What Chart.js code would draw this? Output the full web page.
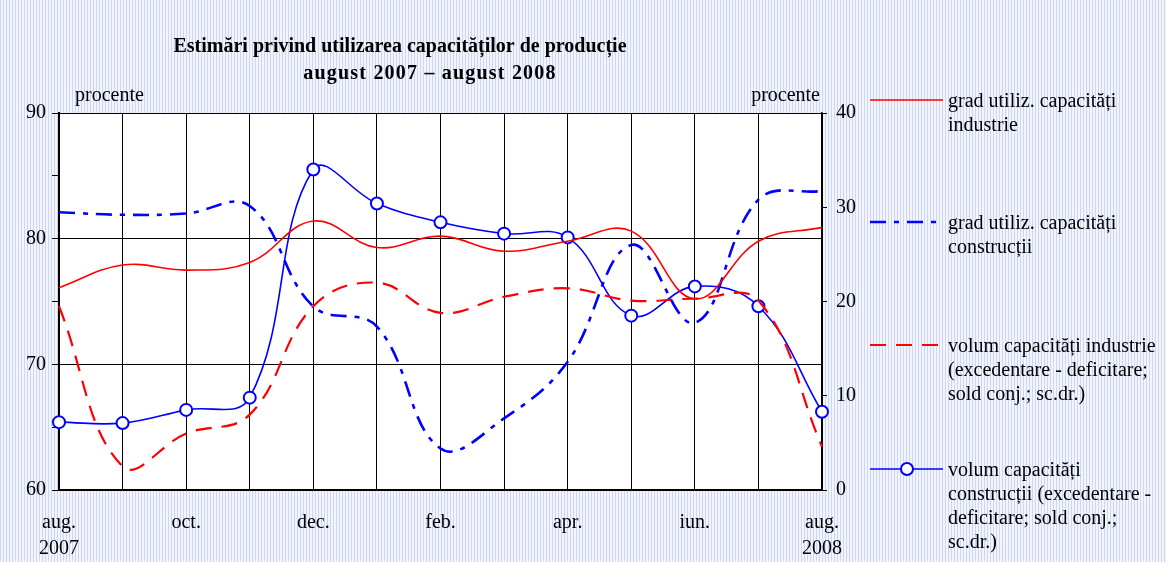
<!DOCTYPE html>
<html>
<head>
<meta charset="utf-8">
<script src="https://cdn.jsdelivr.net/npm/chart.js@4.4.1/dist/chart.umd.min.js"></script>
<style>
    body {
        margin: 0;
        background-color: #e7eaf9;
        background-image: repeating-linear-gradient(90deg, #cfd6f3 0 1px, #f3f5fd 1px 3px);
    }
    #wrap { position: relative; width: 1166px; height: 562px; }
</style>
</head>
<body>
<div id="wrap"><canvas id="chart"></canvas></div>
<script>
// months aug 2007 - aug 2008
const months = ['aug. 2007', 'sep.', 'oct.', 'nov.', 'dec.', 'ian.', 'feb.', 'mar.', 'apr.', 'mai', 'iun.', 'iul.', 'aug. 2008'];
const xTickLabels = [['aug.', '2007'], '', 'oct.', '', 'dec.', '', 'feb.', '', 'apr.', '', 'iun.', '', ['aug.', '2008']];

// left axis (procente)
const gradIndustrie = [76.1, 77.9, 77.5, 78.1, 81.4, 79.3, 80.2, 79.0, 79.8, 80.6, 75.2, 79.8, 80.9];
const gradConstructii = [82.1, 81.9, 82.0, 82.6, 74.6, 73.0, 63.3, 65.7, 70.2, 79.5, 73.3, 83.1, 83.8];
// right axis (sold conjunctural)
const volumIndustrie = [19.5, 2.5, 6.0, 8.0, 19.5, 22.0, 18.8, 20.5, 21.4, 20.1, 20.3, 20.1, 4.6];
const volumConstructii = [7.2, 7.1, 8.5, 9.8, 34.0, 30.4, 28.4, 27.2, 26.8, 18.5, 21.6, 19.5, 8.3];

const leftTicks = [60, 70, 80, 90];
const rightTicks = [0, 10, 20, 30, 40];

const serif = '"Liberation Serif", "Times New Roman", serif';

const legendItems = [
    { ds: 0, y: 100, lines: ['grad utiliz. capacități', 'industrie'] },
    { ds: 1, y: 222, lines: ['grad utiliz. capacități', 'construcții'] },
    { ds: 2, y: 345, lines: ['volum capacități industrie', '(excedentare - deficitare;', 'sold conj.; sc.dr.)'] },
    { ds: 3, y: 469, lines: ['volum capacități', 'construcții (excedentare -', 'deficitare; sold conj.;', 'sc.dr.)'] }
];

const overlay = {
    id: 'overlay',
    beforeDraw(chart) {
        const { ctx, chartArea: a } = chart;
        ctx.save();
        ctx.fillStyle = '#ffffff';
        ctx.fillRect(a.left, a.top, a.right - a.left, a.bottom - a.top);
        ctx.restore();
    },
    afterDraw(chart) {
        const ctx = chart.ctx;
        ctx.save();
        ctx.fillStyle = '#000';
        ctx.textBaseline = 'middle';

        // title
        ctx.font = 'bold 20px ' + serif;
        ctx.textAlign = 'center';
        ctx.fillText('Estimări privind utilizarea capacităților de producție', 400, 47);
        ctx.letterSpacing = '1.2px';
        ctx.fillText('august 2007 – august 2008', 430, 74);
        ctx.letterSpacing = '0px';

        // units
        ctx.font = '20px ' + serif;
        ctx.textAlign = 'left';
        ctx.fillText('procente', 75, 96);
        ctx.textAlign = 'right';
        ctx.fillText('procente', 820, 96);

        // legend
        ctx.textAlign = 'left';
        legendItems.forEach(item => {
            const ds = chart.data.datasets[item.ds];
            ctx.save();
            ctx.strokeStyle = ds.borderColor;
            ctx.lineWidth = ds.borderWidth;
            ctx.setLineDash(ds.borderDash || []);
            ctx.beginPath();
            ctx.moveTo(870, item.y);
            ctx.lineTo(943, item.y);
            ctx.stroke();
            ctx.setLineDash([]);
            if (ds.pointRadius) {
                ctx.fillStyle = '#fff';
                ctx.lineWidth = ds.pointBorderWidth;
                ctx.beginPath();
                ctx.arc(907, item.y, ds.pointRadius, 0, Math.PI * 2);
                ctx.fill();
                ctx.stroke();
            }
            ctx.restore();
            item.lines.forEach((t, i) => ctx.fillText(t, 948, item.y + 2 + i * 24));
        });
        ctx.restore();
    }
};

const ctx = document.getElementById('chart').getContext('2d');
new Chart(ctx, {
    type: 'line',
    data: {
        labels: months,
        datasets: [
            {
                label: 'grad utiliz. capacități industrie',
                data: gradIndustrie,
                yAxisID: 'y',
                borderColor: '#ff0000',
                borderWidth: 1.6,
                pointRadius: 0,
                tension: 0.4
            },
            {
                label: 'grad utiliz. capacități construcții',
                data: gradConstructii,
                yAxisID: 'y',
                borderColor: '#0000ff',
                borderWidth: 2.6,
                borderDash: [16, 8, 5, 8],
                pointRadius: 0,
                tension: 0.4
            },
            {
                label: 'volum capacități industrie',
                data: volumIndustrie,
                yAxisID: 'y1',
                borderColor: '#ff0000',
                borderWidth: 2.2,
                borderDash: [16, 10],
                pointRadius: 0,
                tension: 0.4
            },
            {
                label: 'volum capacități construcții',
                data: volumConstructii,
                yAxisID: 'y1',
                borderColor: '#0000ff',
                borderWidth: 1.6,
                pointRadius: 6,
                pointBorderWidth: 2,
                pointBackgroundColor: '#ffffff',
                pointBorderColor: '#0000ff',
                tension: 0.4
            }
        ]
    },
    options: {
        responsive: true,
        maintainAspectRatio: false,
        animation: false,
        layout: { padding: { top: 113, right: 304, bottom: 0, left: 0 } },
        plugins: {
            legend: { display: false },
            tooltip: { enabled: false }
        },
        scales: {
            x: {
                grid: { color: '#000', lineWidth: 1, drawTicks: false },
                border: { color: '#000', width: 1.5 },
                ticks: {
                    color: '#000',
                    font: { family: serif, size: 20, lineHeight: 1.3 },
                    padding: 20,
                    autoSkip: false,
                    maxRotation: 0,
                    callback: (v, i) => xTickLabels[i]
                },
                afterFit: s => { s.height = 72; }
            },
            y: {
                position: 'left',
                min: 60,
                max: 90,
                grid: {
                    color: c => (c.tick.value % 10 === 0 ? '#000' : 'rgba(0,0,0,0)'),
                    tickColor: '#000',
                    tickLength: 7,
                    lineWidth: 1
                },
                border: { color: '#000', width: 2 },
                ticks: {
                    stepSize: 5,
                    color: '#000',
                    padding: 6,
                    font: { family: serif, size: 20 },
                    callback: v => (leftTicks.includes(v) ? v : '')
                },
                afterFit: s => { s.width = 59; }
            },
            y1: {
                position: 'right',
                min: 0,
                max: 40,
                grid: { drawOnChartArea: false, tickColor: '#000', tickLength: 5 },
                border: { color: '#000', width: 1.5 },
                ticks: {
                    stepSize: 10,
                    color: '#000',
                    padding: 9,
                    font: { family: serif, size: 20 },
                    callback: v => (rightTicks.includes(v) ? v : '')
                },
                afterFit: s => { s.width = 40; }
            }
        }
    },
    plugins: [overlay]
});
</script>
</body>
</html>
